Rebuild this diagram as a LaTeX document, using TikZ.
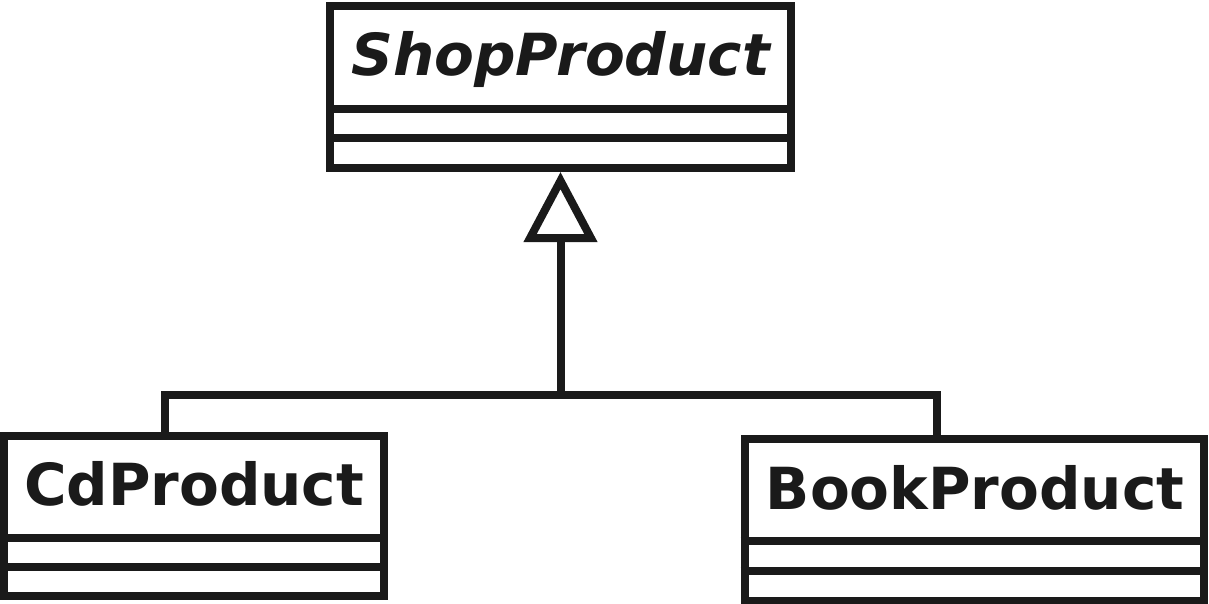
\documentclass[tikz,border=0pt]{standalone}
\usepackage{fontspec}
\setmainfont{DejaVu Sans}
\usetikzlibrary{arrows.meta}
\definecolor{ink}{HTML}{1A1A1A}
\begin{document}
\begin{tikzpicture}[x=1pt,y=-1pt,line width=8pt,
  classbox/.style={draw=ink,fill=white,inner sep=0pt,line join=miter},
  classname/.style={text=ink,anchor=base,inner sep=0pt,font=\fontsize{58}{66}\selectfont\bfseries},
  conn/.style={draw=ink,line join=miter},
  inherit/.style={-{Triangle[open,length=70pt,width=72pt,line join=miter]}}]
\useasboundingbox (0,0) rectangle (1209,604);
% classes
\node[classbox,minimum width=461pt,minimum height=161.5pt] (shop) at (560.5,87.25) {};
\node[classbox,minimum width=380.5pt,minimum height=160.5pt] (cd) at (193.75,515.75) {};
\node[classbox,minimum width=459.5pt,minimum height=162pt] (book) at (974.25,520) {};
% compartments
\draw[conn] (shop.west |- 0,109) -- (shop.east |- 0,109);
\draw[conn] (shop.west |- 0,138) -- (shop.east |- 0,138);
\draw[conn] (cd.west |- 0,538) -- (cd.east |- 0,538);
\draw[conn] (cd.west |- 0,567) -- (cd.east |- 0,567);
\draw[conn] (book.west |- 0,541) -- (book.east |- 0,541);
\draw[conn] (book.west |- 0,570.5) -- (book.east |- 0,570.5);
% names
\node[classname,font=\fontsize{58}{66}\selectfont\bfseries\itshape] (shopname) at (560.5,75.5) {ShopProduct};
\node[classname] (cdname) at (194,505) {CdProduct};
\node[classname] (bookname) at (975,509) {BookProduct};
% inheritance
\coordinate (j) at (560.5,395);
\draw[conn] ([xshift=-28.75pt]cd.north) |- (j);
\draw[conn] ([xshift=-37.25pt]book.north) |- (j);
\draw[conn,inherit] (j) -- (shop.south);
\end{tikzpicture}
\end{document}
